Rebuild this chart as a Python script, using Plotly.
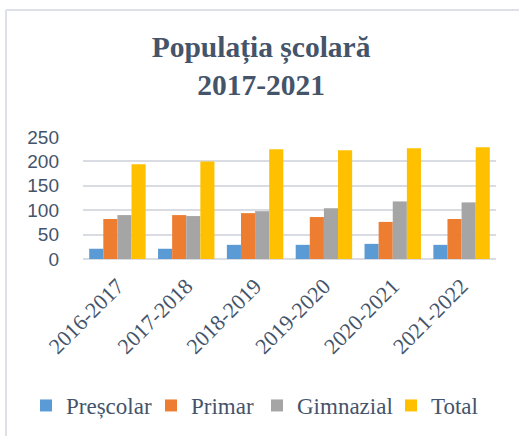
import plotly.graph_objects as go

categories = ["2016-2017", "2017-2018", "2018-2019", "2019-2020", "2020-2021", "2021-2022"]
prescolar = [21, 21, 29, 29, 31, 29]
primar = [82, 90, 94, 86, 76, 82]
gimnazial = [90, 88, 98, 104, 118, 116]
total = [194, 200, 225, 223, 227, 229]
series_names = ["Preșcolar", "Primar", "Gimnazial", "Total"]
colors = ["#5B9BD5", "#ED7D31", "#A5A5A5", "#FFC000"]

W, H = 519, 436
L, R, T, B = 83, 23, 137, 177
pw, ph = W - L - R, H - T - B
txt = "#44546A"
SERIF = "Liberation Serif, Times New Roman, Times, serif"

legend_ids = ["legend", "legend2", "legend3", "legend4"]
legend_left_px = [26, 151, 257, 391]

fig = go.Figure()
for name, vals, col, lid in zip(series_names, [prescolar, primar, gimnazial, total], colors, legend_ids):
    fig.add_trace(go.Bar(x=categories, y=vals, name=name, legend=lid, showlegend=True,
                         marker=dict(color=col, line=dict(width=0))))

legend_layout = {}
for lid, lx in zip(legend_ids, legend_left_px):
    legend_layout[lid] = dict(orientation="h", xref="container", yref="container",
                              x=lx / W, xanchor="left", y=1 - 405.5 / H, yanchor="middle",
                              font=dict(family=SERIF, size=23, color=txt),
                              bgcolor="rgba(0,0,0,0)", borderwidth=0, visible=True)

fig.update_layout(
    width=W, height=H,
    showlegend=True,
    margin=dict(l=L, r=R, t=T, b=B, autoexpand=False),
    paper_bgcolor="white", plot_bgcolor="white",
    barmode="group", bargap=0.18, bargroupgap=0,
    title=dict(text="<b>Populația școlară<br>2017-2021</b>", x=0.503, xanchor="center",
               y=0.87, yanchor="top", yref="container",
               font=dict(family=SERIF, size=29.5, color=txt)),
    xaxis=dict(tickangle=-45, tickfont=dict(family=SERIF, size=22, color=txt),
               showgrid=False, showline=False, ticks="", ticklabelstandoff=9),
    yaxis=dict(range=[0, 250], dtick=50, tickfont=dict(family="Liberation Sans, Arial, sans-serif", size=19, color=txt),
               gridcolor="#D9DDE3", gridwidth=1.5, zeroline=True, zerolinecolor="#D9DDE3",
               zerolinewidth=1.5, showline=False, ticks="", ticklabelstandoff=23),
    shapes=[
        dict(type="line", xref="paper", yref="paper", x0=(6 - L) / pw, x1=(W - L) / pw,
             y0=(H - B - 10) / ph, y1=(H - B - 10) / ph, line=dict(color="#DDE1E7", width=2)),
        dict(type="line", xref="paper", yref="paper", x0=(6 - L) / pw, x1=(6 - L) / pw,
             y0=(H - B - 10) / ph, y1=-(B) / ph, line=dict(color="#DDE1E7", width=2)),
    ],
    **legend_layout,
)
fig.write_html("out.html", config={"displayModeBar": False},
               post_script="document.body.style.margin='0px';")
